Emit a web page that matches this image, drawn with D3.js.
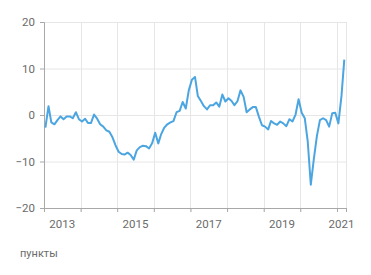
<!DOCTYPE html>
<html>
<head>
<meta charset="utf-8">
<script src="https://cdn.jsdelivr.net/npm/d3@7"></script>
<style>
  body { margin: 0; background: #fff; }
  text { font-family: Roboto, "Noto Sans", sans-serif; fill: #6b6b6b; }
</style>
</head>
<body>
<script>
// monthly values, Jan 2013 .. Mar 2021
var startYear = 2013,
    startMonth = 0;

var values = [
  -2.7, 1.9, -1.6, -2.0, -1.1, -0.3, -0.9, -0.3, -0.3, -0.7, 0.6, -0.9,   // 2013
  -1.4, -0.8, -1.7, -1.7, 0.1, -0.8, -2.0, -2.5, -3.3, -3.6, -4.8, -6.5,  // 2014
  -7.9, -8.4, -8.5, -8.1, -8.6, -9.6, -7.6, -6.9, -6.6, -6.7, -7.2, -6.1, // 2015
  -3.8, -6.1, -4.1, -2.7, -2.0, -1.6, -1.3, 0.6, 0.9, 2.8, 1.4, 5.3,      // 2016
  7.6, 8.2, 4.1, 3.0, 1.9, 1.2, 2.1, 2.1, 2.7, 1.8, 4.4, 2.9,             // 2017
  3.6, 3.0, 2.1, 3.0, 5.3, 3.9, 0.6, 1.2, 1.7, 1.7, -0.4, -2.2,           // 2018
  -2.5, -3.1, -1.3, -1.8, -2.1, -1.4, -1.8, -2.4, -0.9, -1.4, 0.1, 3.4,   // 2019
  0.5, -0.7, -5.6, -15.0, -9.5, -4.5, -1.1, -0.7, -1.1, -2.5, 0.4, 0.5,  // 2020
  -1.8, 4.1, 11.9                                                         // 2021
];

var yTicks = [-20, -10, 0, 10, 20];
var yearLabels = [2013, 2015, 2017, 2019, 2021];
var unitLabel = "пункты";

var width = 371,
    height = 275,
    margin = {top: 22, right: 25, bottom: 67, left: 44};

var data = values.map(function(v, i) {
  return {date: new Date(startYear, startMonth + i, 15), value: v};
});

var start = new Date(startYear, 0, 1),
    end = new Date(2021, 3, 1);

var x = d3.scaleTime()
    .domain([start, end])
    .range([margin.left, width - margin.right]);

var y = d3.scaleLinear()
    .domain([-20, 20])
    .range([height - margin.bottom, margin.top]);

var svg = d3.select("body")
    .append("svg")
    .attr("width", width)
    .attr("height", height);

var years = d3.timeYear.range(start, end).concat([end]);

// grid
svg.append("g")
    .selectAll("line.h")
    .data(yTicks)
    .enter().append("line")
    .attr("x1", margin.left)
    .attr("x2", width - margin.right)
    .attr("y1", function(d) { return y(d) + 0.5; })
    .attr("y2", function(d) { return y(d) + 0.5; })
    .attr("stroke", "#e6e6e6");

svg.append("g")
    .selectAll("line.v")
    .data(years)
    .enter().append("line")
    .attr("x1", function(d) { return Math.round(x(d)) + 0.5; })
    .attr("x2", function(d) { return Math.round(x(d)) + 0.5; })
    .attr("y1", margin.top)
    .attr("y2", height - margin.bottom + 4)
    .attr("stroke", "#e6e6e6");

// axes
var yAxis = svg.append("g")
    .attr("transform", "translate(" + margin.left + ",0)")
    .call(d3.axisLeft(y).tickValues(yTicks).tickSize(4).tickPadding(5));

var xAxis = svg.append("g")
    .attr("transform", "translate(0," + (height - margin.bottom) + ")")
    .call(d3.axisBottom(x).tickValues(years).tickSize(4).tickFormat(""));

[yAxis, xAxis].forEach(function(g) {
  g.select(".domain").attr("stroke", "#a8a8a8");
  g.selectAll(".tick line").attr("stroke", "#a8a8a8");
  g.selectAll("text").style("font-size", "11.5px").attr("fill", "#6b6b6b");
});

// year labels centred in the visible part of each year
svg.append("g")
    .selectAll("text")
    .data(yearLabels)
    .enter().append("text")
    .attr("x", function(d) {
      var a = Math.max(x(new Date(d, 0, 1)), x(start)),
          b = Math.min(x(new Date(d + 1, 0, 1)), x(end));
      return (a + b) / 2;
    })
    .attr("y", height - margin.bottom + 20)
    .attr("text-anchor", "middle")
    .style("font-size", "11.5px")
    .text(function(d) { return d; });

// line
var line = d3.line()
    .x(function(d) { return x(d.date); })
    .y(function(d) { return y(d.value); });

svg.append("path")
    .datum(data)
    .attr("d", line)
    .attr("fill", "none")
    .attr("stroke", "#4ba5e1")
    .attr("stroke-width", 2)
    .attr("stroke-linejoin", "round");

svg.append("text")
    .attr("x", 20)
    .attr("y", 257)
    .style("font-size", "11px")
    .text(unitLabel);
</script>
</body>
</html>
